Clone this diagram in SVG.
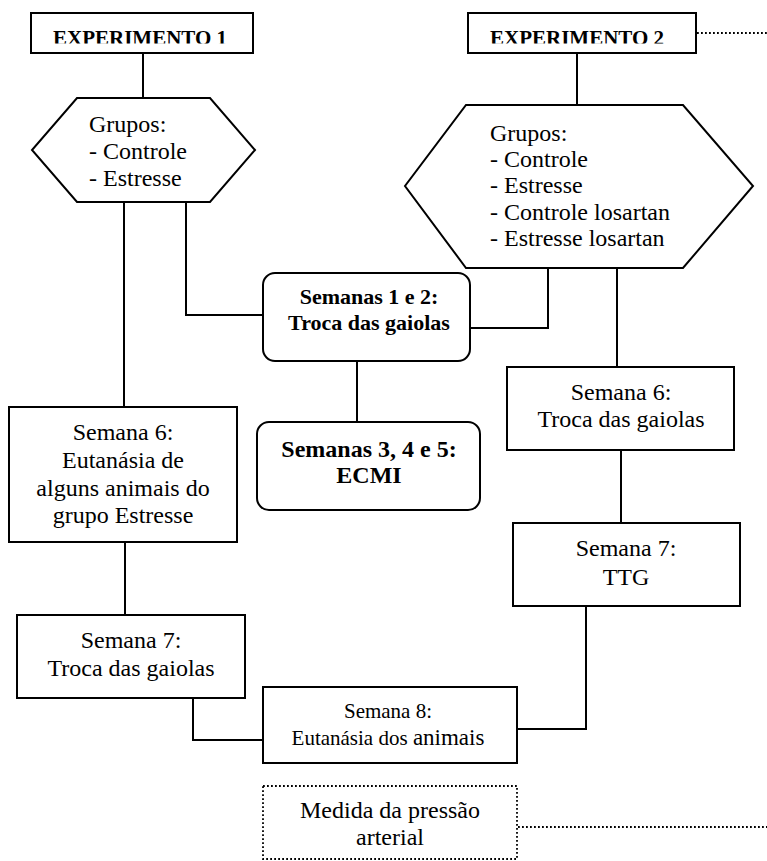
<svg xmlns="http://www.w3.org/2000/svg" width="767" height="861" viewBox="0 0 767 861">
<style>
.box{fill:#fff;stroke:#000;stroke-width:2}
.dot{fill:none;stroke:#000;stroke-width:1.8;stroke-dasharray:1.8 2.2}
.ln{fill:none;stroke:#000;stroke-width:2}
text{font-family:"Liberation Serif","Times New Roman",serif;font-size:24px;fill:#000}
.b{font-weight:bold}
.c{text-anchor:middle}
.h{font-size:21px}
.s22{font-size:22px}
.s21{font-size:21px}
.s23{font-size:23px}
</style>
<defs>
<clipPath id="clipH1"><rect x="31" y="13" width="222" height="30.5"/></clipPath>
<clipPath id="clipH2"><rect x="468" y="13" width="228" height="30.5"/></clipPath>
</defs>
<rect width="767" height="861" fill="#fff"/>
<g id="connectors">
<path class="ln" d="M143 53V98"/>
<path class="ln" d="M124 202V407"/>
<path class="ln" d="M186 202V315H263"/>
<path class="ln" d="M470 328H548V268"/>
<path class="ln" d="M617 268V367"/>
<path class="ln" d="M357 361V422"/>
<path class="ln" d="M577 53V105"/>
<path class="ln" d="M125 542V615"/>
<path class="ln" d="M193 698V740H263"/>
<path class="ln" d="M621 450V523"/>
<path class="ln" d="M586 606V729H517"/>
<path class="dot" d="M697 33H767"/>
<path class="dot" d="M518 827H767"/>
</g>
<g id="exp1">
<rect class="box" x="31" y="13" width="222" height="40"/>
<text class="b c h" x="140" y="44.5" clip-path="url(#clipH1)">EXPERIMENTO 1</text>
</g>
<g id="exp2">
<rect class="box" x="468" y="13" width="228" height="40"/>
<text class="b c h" x="577" y="44.5" clip-path="url(#clipH2)">EXPERIMENTO 2</text>
</g>
<g id="grupos1">
<polygon class="box" points="77,98 210,98 255,150 210,202 77,202 32,150"/>
<text x="89" y="132">Grupos:</text>
<text x="89" y="159">- Controle</text>
<text x="89" y="186">- Estresse</text>
</g>
<g id="grupos2">
<polygon class="box" points="466,105 683,105 753,186 683,268 466,268 405,186"/>
<text x="490" y="141">Grupos:</text>
<text x="490" y="167">- Controle</text>
<text x="490" y="193">- Estresse</text>
<text x="490" y="220">- Controle losartan</text>
<text x="490" y="246">- Estresse losartan</text>
</g>
<g id="semanas12">
<rect class="box" x="263" y="273" width="207" height="88" rx="12"/>
<text class="b c s22" x="369" y="304">Semanas 1 e 2:</text>
<text class="b c s22" x="369" y="330">Troca das gaiolas</text>
</g>
<g id="semanas345">
<rect class="box" x="257" y="422" width="223" height="88" rx="12"/>
<text class="b c" x="369" y="457">Semanas 3, 4 e 5:</text>
<text class="b c" x="369" y="483">ECMI</text>
</g>
<g id="semana6a">
<rect class="box" x="9" y="407" width="228" height="135"/>
<text class="c" x="123" y="440">Semana 6:</text>
<text class="c" x="123" y="468">Eutanásia de</text>
<text class="c" x="123" y="496">alguns animais do</text>
<text class="c" x="123" y="523">grupo Estresse</text>
</g>
<g id="semana7a">
<rect class="box" x="17" y="615" width="228" height="83"/>
<text class="c" x="131" y="648">Semana 7:</text>
<text class="c" x="131" y="676">Troca das gaiolas</text>
</g>
<g id="semana6b">
<rect class="box" x="507" y="367" width="227" height="83"/>
<text class="c" x="621" y="400">Semana 6:</text>
<text class="c" x="621" y="427">Troca das gaiolas</text>
</g>
<g id="semana7b">
<rect class="box" x="513" y="523" width="227" height="83"/>
<text class="c" x="626" y="556">Semana 7:</text>
<text class="c" x="626" y="585">TTG</text>
</g>
<g id="semana8">
<rect class="box" x="263" y="687" width="254" height="76"/>
<text class="c s21" x="388" y="718">Semana 8:</text>
<text class="c s21" x="388" y="745">Eutanásia dos <tspan class="s23">animais</tspan></text>
</g>
<g id="medida">
<rect class="dot" x="263" y="786" width="254" height="73"/>
<text class="c" x="390" y="818">Medida da pressão</text>
<text class="c" x="390" y="845">arterial</text>
</g>
</svg>
